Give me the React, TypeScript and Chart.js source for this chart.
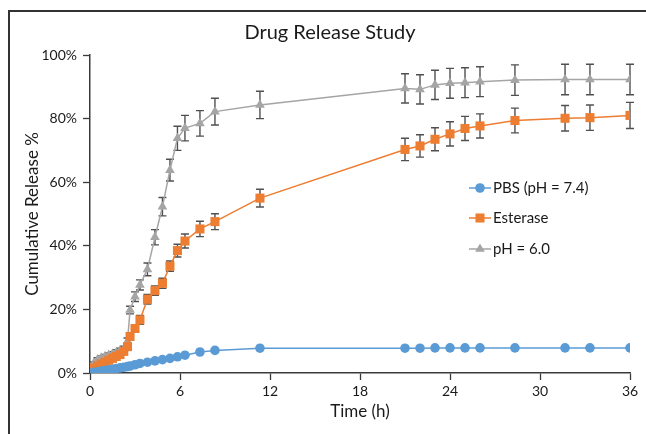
import React, { useEffect, useRef } from "react";
import { Chart, registerables } from "chart.js";

Chart.register(...registerables);

// ---- data (time in hours, release in %) ----
const timeH = [0, 0.25, 0.5, 0.75, 1, 1.25, 1.5, 1.75, 2, 2.25, 2.5, 2.67, 3, 3.33, 3.83, 4.33, 4.83, 5.33, 5.83, 6.33, 7.33, 8.33, 11.33, 21, 22, 23, 24, 25, 26, 28.33, 31.67, 33.33, 36];
const pbsRelease = [0, 0.2, 0.4, 0.6, 0.8, 1.0, 1.2, 1.4, 1.6, 1.8, 2.0, 2.2, 2.6, 3.0, 3.4, 3.8, 4.2, 4.6, 5.1, 5.6, 6.6, 7.1, 7.8, 7.8, 7.8, 7.9, 7.9, 7.9, 7.9, 7.9, 7.9, 7.9, 7.9];
const esteraseRelease = [0, 1.5, 2.2, 2.8, 3.4, 4.0, 4.6, 5.2, 5.8, 6.8, 8.3, 11.5, 14.0, 16.7, 23.2, 25.9, 28.2, 33.6, 38.5, 41.5, 45.3, 47.6, 55.0, 70.3, 71.4, 73.5, 75.2, 76.9, 77.7, 79.4, 80.1, 80.3, 81.0];
const ph6Release = [0, 3.0, 4.2, 4.8, 5.2, 5.6, 6.0, 6.5, 7.0, 7.5, 10.0, 19.8, 24.0, 27.7, 32.6, 42.7, 52.3, 63.8, 73.8, 77.0, 78.5, 82.2, 84.3, 89.5, 89.2, 90.6, 91.1, 91.3, 91.6, 92.1, 92.3, 92.3, 92.3];
const esteraseErr = [0, 0.5, 0.5, 0.5, 0.5, 0.5, 0.5, 0.5, 0.6, 0.6, 0.8, 1.0, 1.2, 1.4, 1.5, 1.5, 1.6, 1.6, 2.0, 2.2, 2.4, 2.5, 2.8, 3.5, 3.5, 3.6, 3.8, 3.8, 3.8, 3.9, 4.0, 4.0, 4.1];
const ph6Err = [0, 0.5, 0.6, 0.6, 0.6, 0.7, 0.7, 0.8, 0.8, 0.9, 1.0, 1.2, 1.5, 1.6, 2.0, 2.4, 2.9, 3.4, 3.8, 4.0, 4.0, 4.2, 4.3, 4.6, 4.6, 4.6, 4.7, 4.7, 4.7, 4.8, 4.8, 4.8, 4.8];

const seriesNames = ["PBS (pH = 7.4)", "Esterase", "pH = 6.0"];
const seriesColors = ["#5B9BD5", "#ED7D31", "#A5A5A5"];
const seriesShapes = ["circle", "rect", "triangle"];
const titleText = "Drug Release Study";
const xTitle = "Time (h)";
const yTitle = "Cumulative Release %";

const FONT = "Lato, 'Open Sans', sans-serif";
const TEXT = "#1a1a1a";
const AXIS = "#3a3a3a";

const toPoints = (ys: number[]) => timeH.map((t, i) => ({ x: t, y: ys[i] }));

const errorBarPlugin = {
  id: "errorBars",
  beforeDatasetsDraw(chart: any) {
    const ctx = chart.ctx;
    const xs = chart.scales.x;
    const ys = chart.scales.y;
    const sets = [
      { vals: esteraseRelease, err: esteraseErr },
      { vals: ph6Release, err: ph6Err },
    ];
    ctx.save();
    ctx.strokeStyle = "#505050";
    ctx.lineWidth = 1.4;
    sets.forEach(({ vals, err }) => {
      timeH.forEach((t, i) => {
        if (!err[i]) return;
        const px = xs.getPixelForValue(t);
        const top = ys.getPixelForValue(vals[i] + err[i]);
        const bot = ys.getPixelForValue(vals[i] - err[i]);
        const cap = 4;
        ctx.beginPath();
        ctx.moveTo(px, top);
        ctx.lineTo(px, bot);
        ctx.moveTo(px - cap, top);
        ctx.lineTo(px + cap, top);
        ctx.moveTo(px - cap, bot);
        ctx.lineTo(px + cap, bot);
        ctx.stroke();
      });
    });
    ctx.restore();
  },
};

const legendPlugin = {
  id: "innerLegend",
  afterDraw(chart: any) {
    const ctx = chart.ctx;
    const a = chart.chartArea;
    const x0 = a.left + 379;
    const rows = [133, 163, 194];
    ctx.save();
    chart.data.datasets.forEach((ds: any, i: number) => {
      const y = a.top + rows[i];
      ctx.strokeStyle = ds.borderColor;
      ctx.lineWidth = 1.5;
      ctx.beginPath();
      ctx.moveTo(x0, y);
      ctx.lineTo(x0 + 22, y);
      ctx.stroke();
      ctx.fillStyle = ds.backgroundColor;
      const r = ds.pointRadius;
      ctx.beginPath();
      if (ds.pointStyle === "circle") {
        ctx.arc(x0 + 11, y, r, 0, Math.PI * 2);
      } else if (ds.pointStyle === "rect") {
        const s = r * Math.SQRT1_2;
        ctx.rect(x0 + 11 - s, y - s, 2 * s, 2 * s);
      } else {
        ctx.moveTo(x0 + 11, y - r);
        ctx.lineTo(x0 + 11 + r * 0.866, y + r * 0.5);
        ctx.lineTo(x0 + 11 - r * 0.866, y + r * 0.5);
        ctx.closePath();
      }
      ctx.fill();
      ctx.fillStyle = TEXT;
      ctx.font = `15px ${FONT}`;
      ctx.textBaseline = "middle";
      ctx.textAlign = "left";
      ctx.fillText(ds.label, x0 + 24, y);
    });
    ctx.restore();
  },
};

export default function App() {
  const ref = useRef<HTMLCanvasElement | null>(null);

  useEffect(() => {
    if (!ref.current) return;
    const radii = [4.8, 6.4, 5.6];
    const chart = new Chart(ref.current, {
      type: "line",
      data: {
        datasets: [pbsRelease, esteraseRelease, ph6Release].map((vals, i) => ({
          label: seriesNames[i],
          data: toPoints(vals),
          borderColor: seriesColors[i],
          backgroundColor: seriesColors[i],
          borderWidth: 1.5,
          pointStyle: seriesShapes[i] as any,
          pointRadius: radii[i],
          pointBorderWidth: 0,
          pointHoverRadius: radii[i],
          tension: 0,
        })),
      },
      options: {
        animation: false,
        responsive: false,
        events: [],
        layout: { padding: { left: 30, right: 16, top: 10, bottom: 8 } },
        plugins: {
          legend: { display: false },
          tooltip: { enabled: false },
          title: {
            display: true,
            text: titleText,
            color: TEXT,
            font: { family: FONT, size: 20, weight: "normal" },
            padding: { top: 11, bottom: 10 },
          },
        },
        scales: {
          x: {
            type: "linear",
            min: 0,
            max: 36,
            ticks: { stepSize: 6, color: TEXT, font: { family: FONT, size: 14 }, padding: 3 },
            grid: { drawOnChartArea: false, drawTicks: true, tickLength: 7, tickColor: AXIS, tickWidth: 1.3 },
            border: { display: true, color: AXIS, width: 1.5 },
            title: { display: true, text: xTitle, color: TEXT, font: { family: FONT, size: 17 } },
            afterFit: (s: any) => { s.height = 53; },
          },
          y: {
            type: "linear",
            min: 0,
            max: 100,
            ticks: { stepSize: 20, color: TEXT, font: { family: FONT, size: 14 }, padding: 6, callback: (v: any) => v + "%" },
            grid: { drawOnChartArea: false, drawTicks: true, tickLength: 7, tickColor: AXIS, tickWidth: 1.3 },
            border: { display: true, color: AXIS, width: 1.5 },
            title: { display: true, text: yTitle, color: TEXT, font: { family: FONT, size: 17 }, padding: { top: -8, bottom: 4 } },
            afterFit: (s: any) => { s.width = 60; },
          },
        },
      },
      plugins: [errorBarPlugin, legendPlugin],
    });
    return () => chart.destroy();
  }, []);

  return (
    <div style={{ position: "absolute", left: 0, top: 0, width: 646, height: 434, overflow: "hidden", background: "#fff" }}>
      <div style={{ position: "absolute", left: 8, top: 10, width: 700, height: 500, borderTop: "2px solid #333", borderLeft: "2px solid #333" }} />
      <canvas ref={ref} width={646} height={434} style={{ position: "absolute", left: 0, top: 0, width: 646, height: 434 }} />
    </div>
  );
}
